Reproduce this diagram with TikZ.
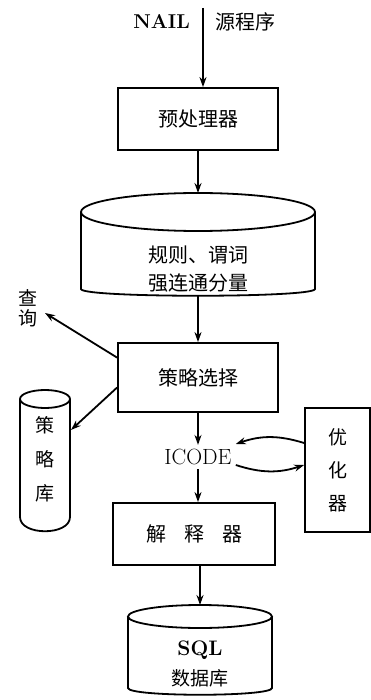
\documentclass[tikz,border=0pt]{standalone}
\usepackage{fontspec}
\newfontfamily\cjk{Noto Sans CJK SC}
\usepackage{tikz}
\usetikzlibrary{arrows.meta, positioning}

\begin{document}
\begin{tikzpicture}[x=1pt, y=-1pt, line width=1.8pt,
    box/.style={draw, font=\cjk\fontsize{20}{22}\selectfont},
    lbl/.style={font=\cjk\fontsize{20}{34}\selectfont, align=center},
    flow/.style={-{Stealth[length=10pt, width=7pt]}}]
  \useasboundingbox (0,0) rectangle (371,700);

  % input
  \coordinate (src) at (203,8);
  \node[font=\bfseries\fontsize{20}{20}\selectfont, anchor=east] (nail) at (194,22) {NAIL};
  \node[lbl, anchor=west] (srctxt) at (211,22) {源程序};

  \node[box, minimum width=160pt, minimum height=62pt] (pre) at (198,119) {预处理器};

  % rules store
  \draw (198,212) ellipse [x radius=117, y radius=19];
  \draw (81,212) -- (81,289) .. controls (81,298) and (315,298) .. (315,289) -- (315,212);
  \coordinate (rulestop) at (198,193);
  \coordinate (rulesbot) at (198,296);
  \node[lbl, font=\cjk\fontsize{20}{28}\selectfont] (rules) at (198,269) {规则、谓词\\强连通分量};

  \node[box, minimum width=160pt, minimum height=69pt] (sel) at (198,377.5) {策略选择};

  % query
  \node[lbl, font=\cjk\fontsize{19}{20}\selectfont] (query) at (28,308) {查\\询};
  \coordinate (qend) at (45,313);

  % strategy store
  \draw (45,399) ellipse [x radius=25, y radius=9];
  \draw (20,399) -- (20,517) .. controls (20,536) and (70,536) .. (70,517) -- (70,399);
  \coordinate (libside) at (71,430);
  \node[lbl, font=\cjk\fontsize{19}{34}\selectfont] (lib) at (45,459) {策\\略\\库};

  \node[font=\fontsize{22}{22}\selectfont] (icode) at (198,457) {ICODE};

  \node[box, lbl, minimum width=65pt, minimum height=124pt, font=\cjk\fontsize{19}{33}\selectfont] (opt) at (337.5,470) {优\\化\\器};

  \node[box, minimum width=162pt, minimum height=62pt] (interp) at (194,534) {解\hspace{18pt}释\hspace{18pt}器};

  % SQL store
  \draw (200,616.5) ellipse [x radius=72, y radius=11.5];
  \draw (128,616.5) -- (128,688) .. controls (128,697) and (272,697) .. (272,688) -- (272,616.5);
  \coordinate (sqltop) at (200,605);
  \node[font=\bfseries\fontsize{21}{21}\selectfont] (sql) at (200,650) {SQL};
  \node[lbl, font=\cjk\fontsize{19}{20}\selectfont] (db) at (200,678) {数据库};

  \draw[flow] (src) -- (pre.north -| src);
  \draw[flow] (pre.south) -- (rulestop);
  \draw[flow] (rulesbot) -- (sel.north);
  \draw[flow] ([yshift=-15.5pt]sel.north west) -- (qend);
  \draw[flow] ([yshift=-10pt]sel.west) -- (libside);
  \draw[flow] (sel.south) -- (icode.north);
  \draw[flow] ([yshift=27pt]opt.west) to[bend right=18] ([yshift=13pt]icode.east);
  \draw[flow] ([yshift=-8pt]icode.east) to[bend right=18] ([yshift=5pt]opt.west);
  \draw[flow] (icode.south) -- (interp.north -| icode.south);
  \draw[flow] (interp.south -| sqltop) -- (sqltop);
\end{tikzpicture}
\end{document}
